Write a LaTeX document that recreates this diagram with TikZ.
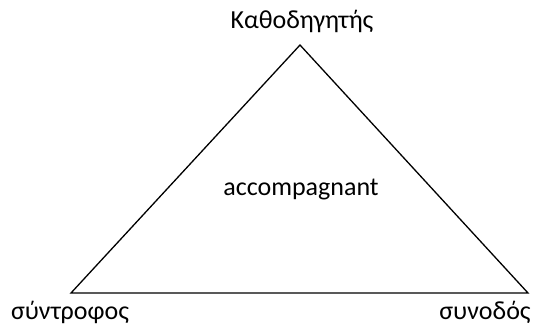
\documentclass[tikz,border=0pt]{standalone}
\usepackage{fontspec}
\setmainfont{Carlito}
\begin{document}
\begin{tikzpicture}[x=1pt,y=-1pt,
  lbl/.style={anchor=base,inner sep=0pt,font=\fontsize{26}{30}\selectfont},
  edge/.style={draw=black,line width=1.3pt,line join=miter}]
\useasboundingbox (0,0) rectangle (536,327);
\coordinate (T) at (300,45);
\coordinate (L) at (71,293);
\coordinate (R) at (528,293);
\draw[edge] (T) -- (L) -- (R) -- cycle;
\node[lbl] (top) at (302,28) {Καθοδηγητής};
\node[lbl] (mid) at (301,195) {accompagnant};
\node[lbl] (left) at (70,319) {σύντροφος};
\node[lbl] (right) at (485,319) {συνοδός};
\end{tikzpicture}
\end{document}
